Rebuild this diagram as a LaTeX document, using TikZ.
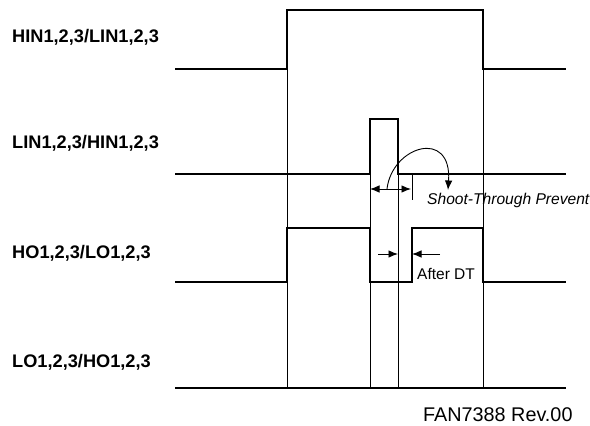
\documentclass[tikz,border=0pt]{standalone}
\usepackage{fontspec}
\setmainfont{Liberation Sans}
\usetikzlibrary{positioning,arrows.meta}

\begin{document}
\begin{tikzpicture}[x=1pt,y=-1pt,
	>={Latex[length=9.5pt,width=7.5pt]},
	wave/.style={line width=1.8pt},
	guide/.style={line width=0.9pt},
	dim/.style={line width=0.9pt},
	sig/.style={font=\fontsize{18.2}{20}\selectfont\bfseries,anchor=west,inner sep=0pt},
	note/.style={font=\fontsize{15.5}{17}\selectfont,anchor=west,inner sep=0pt}]
	\useasboundingbox (0,0) rectangle (590,426);
	% signal names
	\node[sig] (hin) at (12,37) {HIN1,2,3/LIN1,2,3};
	\node[sig] (lin) at (12,143) {LIN1,2,3/HIN1,2,3};
	\node[sig] (ho) at (12,253) {HO1,2,3/LO1,2,3};
	\node[sig] (lo) at (12,362) {LO1,2,3/HO1,2,3};
	% waveforms
	\draw[wave] (175,69)--++(112,0)--++(0,-59)--++(196,0)--++(0,59)--++(83,0);
	\draw[wave] (175,174)--++(195,0)--++(0,-55)--++(28,0)--++(0,55)--++(168,0);
	\draw[wave] (175,282)--++(112,0)--++(0,-54)--++(83,0)--++(0,54)--++(42,0)--++(0,-54)--++(71,0)--++(0,54)--++(83,0);
	\draw[wave] (175,388)--++(391,0);
	% guide lines
	\draw[guide] (287,10)--(287,388) (483,10)--(483,388) (370,119)--(370,388) (398,119)--(398,388);
	% shoot-through prevent
	\coordinate (stl) at (370,189);
	\coordinate (str) at (411,189);
	\coordinate (sts) at (387,189);
	\coordinate (ste) at (448,190);
	\draw[dim,<->] (stl)--(str);
	\draw[dim] (412,174)--(412,200);
	\draw[dim,->] (sts) .. controls (392,146) and (452,128) .. (ste);
	\node[note,font=\fontsize{15.6}{17}\selectfont\itshape] (stp) at (427,200) {Shoot-Through Prevent};
	% after dead time
	\coordinate (dtl) at (378,254);
	\coordinate (dta) at (398,254);
	\coordinate (dtb) at (412,254);
	\coordinate (dtr) at (440,254);
	\draw[dim,->] (dtl)--(dta);
	\draw[dim,->] (dtr)--(dtb);
	\node[note] (adt) at (417,274) {After DT};
	\node[note,font=\fontsize{19.8}{21}\selectfont] (rev) at (423,415) {FAN7388 Rev.00};
\end{tikzpicture}
\end{document}
